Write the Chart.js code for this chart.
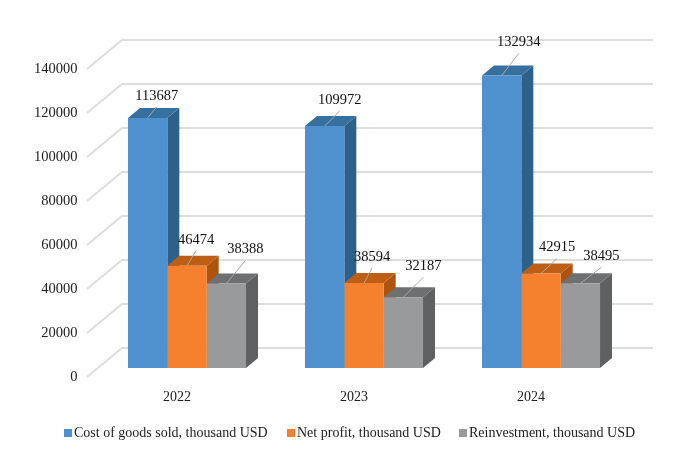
<!DOCTYPE html>
<html>
<head>
<meta charset="utf-8">
<title>Costs, profit and reinvestment</title>
<script src="https://cdn.jsdelivr.net/npm/chart.js@4"></script>
<style>
  html, body { margin: 0; padding: 0; background: #fff; }
  canvas { display: block; }
</style>
</head>
<body>
<canvas id="cost-chart" width="675" height="449"></canvas>
<script>
const years = ["2022", "2023", "2024"];
const costOfGoods = [113687, 109972, 132934];
const netProfit = [46474, 38594, 42915];
const reinvestment = [38388, 32187, 38495];
const seriesNames = ["Cost of goods sold, thousand USD", "Net profit, thousand USD", "Reinvestment, thousand USD"];
const seriesColors = ["#4f90cf", "#f5812f", "#989a9c"];
const sideColors = ["#2e6189", "#ad5410", "#5f6062"];
const topColors = ["#37709f", "#bd5e14", "#6e6f71"];

// where each value label sits relative to the top of its bar: [year][series]
const labelShift = [
  [[9, -22], [9, -26], [19, -34]],
  [[15, -26], [8, -26], [20, -31]],
  [[17, -33], [16, -26], [21, -27]]
];

const FONT = '14px "Liberation Serif"';
const LABEL_FONT = '14.5px "Liberation Serif"';
const DEPTH_X = 12;
const DEPTH_Y = 10;

// back wall and left wall of the box
const wallGrid = {
  id: 'wallGrid',
  beforeDatasetsDraw(chart) {
    const { ctx, scales: { y } } = chart;
    ctx.save();
    ctx.strokeStyle = '#dedede';
    ctx.lineWidth = 2;
    y.ticks.forEach(t => {
      const py = y.getPixelForValue(t.value);
      ctx.beginPath();
      ctx.moveTo(87, py + 9);
      ctx.lineTo(122, py - 20);
      ctx.lineTo(653, py - 20);
      ctx.stroke();
    });
    ctx.restore();
  }
};

// top and right faces of every bar
const barSides = {
  id: 'barSides',
  beforeDatasetsDraw(chart) {
    const { ctx } = chart;
    ctx.save();
    years.forEach((_, i) => {
      chart.data.datasets.forEach((ds, d) => {
        const bar = chart.getDatasetMeta(d).data[i];
        const l = bar.x - bar.width / 2;
        const r = bar.x + bar.width / 2;
        const t = bar.y;
        const b = bar.base;
        ctx.fillStyle = sideColors[d];
        ctx.beginPath();
        ctx.moveTo(r, t);
        ctx.lineTo(r + DEPTH_X, t - DEPTH_Y);
        ctx.lineTo(r + DEPTH_X, b - DEPTH_Y);
        ctx.lineTo(r, b);
        ctx.closePath();
        ctx.fill();
        ctx.fillStyle = topColors[d];
        ctx.beginPath();
        ctx.moveTo(l, t);
        ctx.lineTo(l + DEPTH_X, t - DEPTH_Y);
        ctx.lineTo(r + DEPTH_X, t - DEPTH_Y);
        ctx.lineTo(r, t);
        ctx.closePath();
        ctx.fill();
      });
    });
    ctx.restore();
  }
};

// value labels with their leader lines
const valueLabels = {
  id: 'valueLabels',
  afterDatasetsDraw(chart) {
    const { ctx } = chart;
    ctx.save();
    ctx.font = LABEL_FONT;
    ctx.fillStyle = '#111';
    ctx.textAlign = 'center';
    ctx.textBaseline = 'middle';
    ctx.strokeStyle = '#a6a6a6';
    ctx.lineWidth = 1;
    chart.data.datasets.forEach((ds, d) => {
      chart.getDatasetMeta(d).data.forEach((bar, i) => {
        const [dx, dy] = labelShift[i][d];
        const lx = bar.x + dx;
        const ly = bar.y + dy;
        ctx.beginPath();
        ctx.moveTo(bar.x, bar.y);
        ctx.lineTo(lx, ly + 11);
        ctx.stroke();
        ctx.fillText(String(ds.data[i]), lx, ly);
      });
    });
    ctx.restore();
  }
};

// legend row under the chart
const legendRow = {
  id: 'legendRow',
  afterDraw(chart) {
    const { ctx } = chart;
    const startX = [64, 287, 459];
    ctx.save();
    ctx.font = FONT;
    ctx.textBaseline = 'middle';
    ctx.textAlign = 'left';
    chart.data.datasets.forEach((ds, d) => {
      ctx.fillStyle = ds.backgroundColor;
      ctx.fillRect(startX[d], 429, 8, 8);
      ctx.fillStyle = '#222';
      ctx.fillText(ds.label, startX[d] + 10, 433);
    });
    ctx.restore();
  }
};

new Chart(document.getElementById('cost-chart'), {
  type: 'bar',
  data: {
    labels: years,
    datasets: [
      { label: seriesNames[0], data: costOfGoods, backgroundColor: seriesColors[0] },
      { label: seriesNames[1], data: netProfit, backgroundColor: seriesColors[1] },
      { label: seriesNames[2], data: reinvestment, backgroundColor: seriesColors[2] }
    ]
  },
  plugins: [wallGrid, barSides, valueLabels, legendRow],
  options: {
    responsive: false,
    animation: false,
    layout: { padding: { top: 60, right: 45.5, bottom: 0, left: 0 } },
    datasets: { bar: { categoryPercentage: 0.667, barPercentage: 1 } },
    scales: {
      x: {
        afterFit(scale) { scale.height = 81; },
        grid: { display: false, drawTicks: false },
        border: { display: false },
        ticks: { font: { family: 'Liberation Serif', size: 14 }, color: '#222', padding: 21, labelOffset: -10 }
      },
      y: {
        min: 0,
        max: 140000,
        afterFit(scale) { scale.width = 98.5; },
        grid: { display: false, drawTicks: false },
        border: { display: false },
        ticks: { stepSize: 20000, font: { family: 'Liberation Serif', size: 14.5 }, color: '#222', padding: 21, labelOffset: 9, callback: v => String(v) }
      }
    },
    plugins: {
      legend: { display: false },
      tooltip: { enabled: false }
    }
  }
});
</script>
</body>
</html>
